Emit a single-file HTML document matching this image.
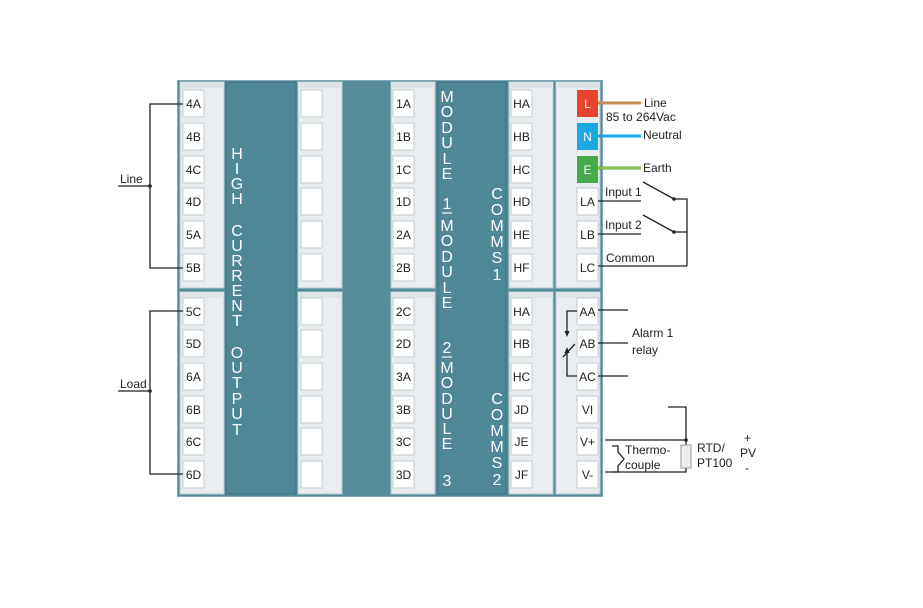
<!DOCTYPE html>
<html><head><meta charset="utf-8"><style>
html,body{margin:0;padding:0;background:#fff;}
svg{display:block;font-family:"Liberation Sans",sans-serif;}
</style></head><body>
<svg width="923" height="608" viewBox="0 0 923 608" xmlns="http://www.w3.org/2000/svg">
<rect x="0" y="0" width="923" height="608" fill="#fff"/>
<!-- main panel -->
<rect x="177" y="80" width="426" height="417" fill="#548c9a"/>
<rect x="177.5" y="80.5" width="425" height="416" fill="none" stroke="#80aab5" stroke-width="1"/>
<!-- dark panels -->
<rect x="226" y="82" width="70" height="412" fill="#4e8795" stroke="#3f7482" stroke-width="1"/>
<rect x="438" y="82" width="68" height="412" fill="#4e8795" stroke="#3f7482" stroke-width="1"/>
<!-- strips -->
<g fill="#e9edef" stroke="#b9c9cf" stroke-width="1">
<rect x="180" y="82" width="44" height="206"/><rect x="180" y="292" width="44" height="202"/>
<rect x="298" y="82" width="44" height="206"/><rect x="298" y="292" width="44" height="202"/>
<rect x="391" y="82" width="44" height="206"/><rect x="391" y="292" width="44" height="202"/>
<rect x="509" y="82" width="44" height="206"/><rect x="509" y="292" width="44" height="202"/>
<rect x="556" y="82" width="44" height="206"/><rect x="556" y="292" width="44" height="202"/>
</g>
<g fill="#dde4e7">
<rect x="180" y="82" width="44" height="6"/><rect x="180" y="292" width="44" height="6"/>
<rect x="298" y="82" width="44" height="6"/><rect x="298" y="292" width="44" height="6"/>
<rect x="391" y="82" width="44" height="6"/><rect x="391" y="292" width="44" height="6"/>
<rect x="509" y="82" width="44" height="6"/><rect x="509" y="292" width="44" height="6"/>
<rect x="556" y="82" width="44" height="6"/><rect x="556" y="292" width="44" height="6"/>
</g>
<!-- boxes -->
<g fill="#fff" stroke="#c4cdd1" stroke-width="1">
<rect x="183" y="90" width="21" height="27"/><rect x="183" y="123" width="21" height="27"/><rect x="183" y="156" width="21" height="27"/><rect x="183" y="188" width="21" height="27"/><rect x="183" y="221" width="21" height="27"/><rect x="183" y="254" width="21" height="27"/>
<rect x="183" y="298" width="21" height="27"/><rect x="183" y="330" width="21" height="27"/><rect x="183" y="363" width="21" height="27"/><rect x="183" y="396" width="21" height="27"/><rect x="183" y="428" width="21" height="27"/><rect x="183" y="461" width="21" height="27"/>
<rect x="301" y="90" width="21" height="27"/><rect x="301" y="123" width="21" height="27"/><rect x="301" y="156" width="21" height="27"/><rect x="301" y="188" width="21" height="27"/><rect x="301" y="221" width="21" height="27"/><rect x="301" y="254" width="21" height="27"/>
<rect x="301" y="298" width="21" height="27"/><rect x="301" y="330" width="21" height="27"/><rect x="301" y="363" width="21" height="27"/><rect x="301" y="396" width="21" height="27"/><rect x="301" y="428" width="21" height="27"/><rect x="301" y="461" width="21" height="27"/>
<rect x="393" y="90" width="21" height="27"/><rect x="393" y="123" width="21" height="27"/><rect x="393" y="156" width="21" height="27"/><rect x="393" y="188" width="21" height="27"/><rect x="393" y="221" width="21" height="27"/><rect x="393" y="254" width="21" height="27"/>
<rect x="393" y="298" width="21" height="27"/><rect x="393" y="330" width="21" height="27"/><rect x="393" y="363" width="21" height="27"/><rect x="393" y="396" width="21" height="27"/><rect x="393" y="428" width="21" height="27"/><rect x="393" y="461" width="21" height="27"/>
<rect x="511" y="90" width="21" height="27"/><rect x="511" y="123" width="21" height="27"/><rect x="511" y="156" width="21" height="27"/><rect x="511" y="188" width="21" height="27"/><rect x="511" y="221" width="21" height="27"/><rect x="511" y="254" width="21" height="27"/>
<rect x="511" y="298" width="21" height="27"/><rect x="511" y="330" width="21" height="27"/><rect x="511" y="363" width="21" height="27"/><rect x="511" y="396" width="21" height="27"/><rect x="511" y="428" width="21" height="27"/><rect x="511" y="461" width="21" height="27"/>
<rect x="577" y="188" width="21" height="27"/><rect x="577" y="221" width="21" height="27"/><rect x="577" y="254" width="21" height="27"/>
<rect x="577" y="298" width="21" height="27"/><rect x="577" y="330" width="21" height="27"/><rect x="577" y="363" width="21" height="27"/><rect x="577" y="396" width="21" height="27"/><rect x="577" y="428" width="21" height="27"/><rect x="577" y="461" width="21" height="27"/>
</g>
<rect x="577" y="90" width="21" height="27" fill="#e8432e"/>
<rect x="577" y="123" width="21" height="27" fill="#1aa9e0"/>
<rect x="577" y="156" width="21" height="27" fill="#45a84b"/>
<g font-size="12" fill="#fff" text-anchor="middle">
<text x="587.5" y="108">L</text><text x="587.5" y="141">N</text><text x="587.5" y="174">E</text>
</g>
<!-- terminal labels -->
<g font-size="12" fill="#222" text-anchor="middle">
<text x="193.5" y="108">4A</text><text x="193.5" y="141">4B</text><text x="193.5" y="174">4C</text><text x="193.5" y="206">4D</text><text x="193.5" y="239">5A</text><text x="193.5" y="272">5B</text>
<text x="193.5" y="316">5C</text><text x="193.5" y="348">5D</text><text x="193.5" y="381">6A</text><text x="193.5" y="414">6B</text><text x="193.5" y="446">6C</text><text x="193.5" y="479">6D</text>
<text x="403.5" y="108">1A</text><text x="403.5" y="141">1B</text><text x="403.5" y="174">1C</text><text x="403.5" y="206">1D</text><text x="403.5" y="239">2A</text><text x="403.5" y="272">2B</text>
<text x="403.5" y="316">2C</text><text x="403.5" y="348">2D</text><text x="403.5" y="381">3A</text><text x="403.5" y="414">3B</text><text x="403.5" y="446">3C</text><text x="403.5" y="479">3D</text>
<text x="521.5" y="108">HA</text><text x="521.5" y="141">HB</text><text x="521.5" y="174">HC</text><text x="521.5" y="206">HD</text><text x="521.5" y="239">HE</text><text x="521.5" y="272">HF</text>
<text x="521.5" y="316">HA</text><text x="521.5" y="348">HB</text><text x="521.5" y="381">HC</text><text x="521.5" y="414">JD</text><text x="521.5" y="446">JE</text><text x="521.5" y="479">JF</text>
<text x="587.5" y="206">LA</text><text x="587.5" y="239">LB</text><text x="587.5" y="272">LC</text>
<text x="587.5" y="316">AA</text><text x="587.5" y="348">AB</text><text x="587.5" y="381">AC</text><text x="587.5" y="414">VI</text><text x="587.5" y="446">V+</text><text x="587.5" y="479">V-</text>
</g>
<!-- vertical texts -->
<g font-size="16" fill="#fff" text-anchor="middle">
<text x="237" y="159">H</text><text x="237" y="174">I</text><text x="237" y="189">G</text><text x="237" y="204">H</text>
<text x="237" y="236">C</text><text x="237" y="251">U</text><text x="237" y="266">R</text><text x="237" y="281">R</text><text x="237" y="296">E</text><text x="237" y="311">N</text><text x="237" y="326">T</text>
<text x="237" y="358">O</text><text x="237" y="373">U</text><text x="237" y="388">T</text><text x="237" y="404">P</text><text x="237" y="419">U</text><text x="237" y="435">T</text>

<text x="447" y="102">M</text><text x="447" y="117">O</text><text x="447" y="133">D</text><text x="447" y="148">U</text><text x="447" y="164">L</text><text x="447" y="179">E</text>
<text x="447" y="209">1</text><text x="447" y="231">M</text><text x="447" y="246">O</text><text x="447" y="262">D</text><text x="447" y="277">U</text><text x="447" y="293">L</text><text x="447" y="308">E</text>
<text x="447" y="353">2</text><text x="447" y="373">M</text><text x="447" y="388">O</text><text x="447" y="404">D</text><text x="447" y="419">U</text><text x="447" y="434">L</text><text x="447" y="449">E</text>
<text x="447" y="486">3</text>
<text x="497" y="199">C</text><text x="497" y="215">O</text><text x="497" y="231">M</text><text x="497" y="247">M</text><text x="497" y="263">S</text><text x="497" y="280">1</text>
<text x="497" y="404">C</text><text x="497" y="420">O</text><text x="497" y="436">M</text><text x="497" y="452">M</text><text x="497" y="468">S</text><text x="497" y="485">2</text>
</g>
<g stroke="#fff" stroke-width="1.2"><line x1="442" y1="213" x2="452" y2="213"/><line x1="442" y1="357" x2="452" y2="357"/></g>
<!-- left wiring -->
<g stroke="#222" stroke-width="1.3" fill="none">
<polyline points="183,104 150,104 150,268 183,268"/>
<polyline points="183,311 150,311 150,474 183,474"/>
<line x1="118" y1="186" x2="150" y2="186"/>
<line x1="118" y1="391" x2="150" y2="391"/>
</g>
<circle cx="150" cy="186" r="1.8" fill="#222"/><circle cx="150" cy="391" r="1.8" fill="#222"/>
<g font-size="12" fill="#222"><text x="120" y="183">Line</text><text x="120" y="388">Load</text></g>
<!-- right wires -->
<line x1="598" y1="103" x2="641" y2="103" stroke="#c58a55" stroke-width="3"/>
<line x1="598" y1="136" x2="641" y2="136" stroke="#1aa9e0" stroke-width="3"/>
<line x1="598" y1="168" x2="641" y2="168" stroke="#45a84b" stroke-width="3"/>
<line x1="598" y1="168" x2="641" y2="168" stroke="#e0d23a" stroke-width="1"/>
<g stroke="#222" stroke-width="1.3" fill="none">
<line x1="598" y1="201" x2="641" y2="201"/>
<line x1="598" y1="234" x2="641" y2="234"/>
<line x1="598" y1="266" x2="687" y2="266"/>
<line x1="643" y1="182" x2="674" y2="199"/>
<line x1="643" y1="215" x2="674" y2="232"/>
<polyline points="674,199 687,199 687,266"/>
<line x1="674" y1="232" x2="687" y2="232"/>
<line x1="598" y1="310" x2="628" y2="310"/>
<line x1="598" y1="343" x2="628" y2="343"/>
<line x1="598" y1="376" x2="628" y2="376"/>
<polyline points="577,311 567,311 567,333"/>
<polyline points="577,376 567,376 567,352"/>
<line x1="563" y1="357" x2="575" y2="344"/>
<polyline points="668,407 686,407 686,439"/>
<line x1="605" y1="440" x2="686" y2="440"/>
<polyline points="605,472 686,472 686,468"/>
<line x1="686" y1="440" x2="686" y2="445"/>
<polyline points="612,446 618,446 618,452 624,459 618,466 618,472 612,472"/>
</g>
<polygon points="564.5,331 569.5,331 567,337" fill="#222"/>
<polygon points="564.5,353 569.5,353 567,347" fill="#222"/>
<circle cx="674" cy="199" r="1.8" fill="#222"/><circle cx="674" cy="232" r="1.8" fill="#222"/><circle cx="686" cy="440" r="1.8" fill="#222"/>
<rect x="681" y="445" width="10" height="23" fill="#eee" stroke="#999" stroke-width="1"/>
<g font-size="12" fill="#222">
<text x="644" y="107">Line</text>
<text x="606" y="121">85 to 264Vac</text>
<text x="643" y="139">Neutral</text>
<text x="643" y="172">Earth</text>
<text x="605" y="196">Input 1</text>
<text x="605" y="229">Input 2</text>
<text x="606" y="262">Common</text>
<text x="632" y="337">Alarm 1</text>
<text x="632" y="354">relay</text>
<text x="625" y="454">Thermo-</text>
<text x="625" y="469">couple</text>
<text x="697" y="452">RTD/</text>
<text x="697" y="467">PT100</text>
<text x="744" y="442">+</text>
<text x="740" y="457">PV</text>
<text x="745" y="472">-</text>
</g>
</svg>
</body></html>
